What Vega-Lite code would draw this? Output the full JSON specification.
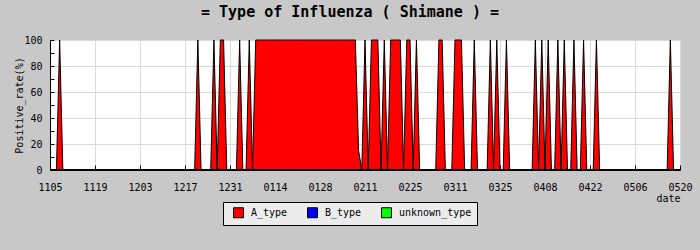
{
  "$schema": "https://vega.github.io/schema/vega-lite/v6.json",
  "autosize": {"type": "none"},
  "width": 630,
  "height": 130,
  "padding": {"left": 50, "top": 40, "right": 20, "bottom": 80},
  "background": "#c8c8c8",
  "title": {
    "text": "= Type of Influenza ( Shimane ) =",
    "font": "DejaVu Sans Mono",
    "fontSize": 15,
    "fontWeight": "bold",
    "color": "black",
    "anchor": "middle",
    "baseline": "alphabetic",
    "offset": 3,
    "dx": -15
  },
  "config": {
    "view": {"fill": "white", "stroke": null},
    "font": "DejaVu Sans Mono",
    "axis": {
      "labelFont": "DejaVu Sans Mono",
      "labelFontSize": 10,
      "labelColor": "black",
      "titleFont": "DejaVu Sans Mono",
      "titleFontSize": 10,
      "titleFontWeight": "normal",
      "titleColor": "black",
      "domainColor": "black",
      "tickColor": "black",
      "gridColor": "#d9d9d9",
      "labelFlush": false
    }
  },
  "data": {
    "values": [
      {"date":"2009-11-05","A_type":0,"B_type":0,"unknown_type":0},
      {"date":"2009-11-06","A_type":0,"B_type":0,"unknown_type":0},
      {"date":"2009-11-07","A_type":0,"B_type":0,"unknown_type":0},
      {"date":"2009-11-08","A_type":100,"B_type":0,"unknown_type":0},
      {"date":"2009-11-09","A_type":0,"B_type":0,"unknown_type":0},
      {"date":"2009-11-10","A_type":0,"B_type":0,"unknown_type":0},
      {"date":"2009-11-11","A_type":0,"B_type":0,"unknown_type":0},
      {"date":"2009-11-12","A_type":0,"B_type":0,"unknown_type":0},
      {"date":"2009-11-13","A_type":0,"B_type":0,"unknown_type":0},
      {"date":"2009-11-14","A_type":0,"B_type":0,"unknown_type":0},
      {"date":"2009-11-15","A_type":0,"B_type":0,"unknown_type":0},
      {"date":"2009-11-16","A_type":0,"B_type":0,"unknown_type":0},
      {"date":"2009-11-17","A_type":0,"B_type":0,"unknown_type":0},
      {"date":"2009-11-18","A_type":0,"B_type":0,"unknown_type":0},
      {"date":"2009-11-19","A_type":0,"B_type":0,"unknown_type":0},
      {"date":"2009-11-20","A_type":0,"B_type":0,"unknown_type":0},
      {"date":"2009-11-21","A_type":0,"B_type":0,"unknown_type":0},
      {"date":"2009-11-22","A_type":0,"B_type":0,"unknown_type":0},
      {"date":"2009-11-23","A_type":0,"B_type":0,"unknown_type":0},
      {"date":"2009-11-24","A_type":0,"B_type":0,"unknown_type":0},
      {"date":"2009-11-25","A_type":0,"B_type":0,"unknown_type":0},
      {"date":"2009-11-26","A_type":0,"B_type":0,"unknown_type":0},
      {"date":"2009-11-27","A_type":0,"B_type":0,"unknown_type":0},
      {"date":"2009-11-28","A_type":0,"B_type":0,"unknown_type":0},
      {"date":"2009-11-29","A_type":0,"B_type":0,"unknown_type":0},
      {"date":"2009-11-30","A_type":0,"B_type":0,"unknown_type":0},
      {"date":"2009-12-01","A_type":0,"B_type":0,"unknown_type":0},
      {"date":"2009-12-02","A_type":0,"B_type":0,"unknown_type":0},
      {"date":"2009-12-03","A_type":0,"B_type":0,"unknown_type":0},
      {"date":"2009-12-04","A_type":0,"B_type":0,"unknown_type":0},
      {"date":"2009-12-05","A_type":0,"B_type":0,"unknown_type":0},
      {"date":"2009-12-06","A_type":0,"B_type":0,"unknown_type":0},
      {"date":"2009-12-07","A_type":0,"B_type":0,"unknown_type":0},
      {"date":"2009-12-08","A_type":0,"B_type":0,"unknown_type":0},
      {"date":"2009-12-09","A_type":0,"B_type":0,"unknown_type":0},
      {"date":"2009-12-10","A_type":0,"B_type":0,"unknown_type":0},
      {"date":"2009-12-11","A_type":0,"B_type":0,"unknown_type":0},
      {"date":"2009-12-12","A_type":0,"B_type":0,"unknown_type":0},
      {"date":"2009-12-13","A_type":0,"B_type":0,"unknown_type":0},
      {"date":"2009-12-14","A_type":0,"B_type":0,"unknown_type":0},
      {"date":"2009-12-15","A_type":0,"B_type":0,"unknown_type":0},
      {"date":"2009-12-16","A_type":0,"B_type":0,"unknown_type":0},
      {"date":"2009-12-17","A_type":0,"B_type":0,"unknown_type":0},
      {"date":"2009-12-18","A_type":0,"B_type":0,"unknown_type":0},
      {"date":"2009-12-19","A_type":0,"B_type":0,"unknown_type":0},
      {"date":"2009-12-20","A_type":0,"B_type":0,"unknown_type":0},
      {"date":"2009-12-21","A_type":100,"B_type":0,"unknown_type":0},
      {"date":"2009-12-22","A_type":0,"B_type":0,"unknown_type":0},
      {"date":"2009-12-23","A_type":0,"B_type":0,"unknown_type":0},
      {"date":"2009-12-24","A_type":0,"B_type":0,"unknown_type":0},
      {"date":"2009-12-25","A_type":0,"B_type":0,"unknown_type":0},
      {"date":"2009-12-26","A_type":100,"B_type":0,"unknown_type":0},
      {"date":"2009-12-27","A_type":0,"B_type":0,"unknown_type":0},
      {"date":"2009-12-28","A_type":100,"B_type":0,"unknown_type":0},
      {"date":"2009-12-29","A_type":100,"B_type":0,"unknown_type":0},
      {"date":"2009-12-30","A_type":0,"B_type":0,"unknown_type":0},
      {"date":"2009-12-31","A_type":0,"B_type":0,"unknown_type":0},
      {"date":"2010-01-01","A_type":0,"B_type":0,"unknown_type":0},
      {"date":"2010-01-02","A_type":0,"B_type":0,"unknown_type":0},
      {"date":"2010-01-03","A_type":100,"B_type":0,"unknown_type":0},
      {"date":"2010-01-04","A_type":0,"B_type":0,"unknown_type":0},
      {"date":"2010-01-05","A_type":0,"B_type":0,"unknown_type":0},
      {"date":"2010-01-06","A_type":100,"B_type":0,"unknown_type":0},
      {"date":"2010-01-07","A_type":0,"B_type":0,"unknown_type":0},
      {"date":"2010-01-08","A_type":100,"B_type":0,"unknown_type":0},
      {"date":"2010-01-09","A_type":100,"B_type":0,"unknown_type":0},
      {"date":"2010-01-10","A_type":100,"B_type":0,"unknown_type":0},
      {"date":"2010-01-11","A_type":100,"B_type":0,"unknown_type":0},
      {"date":"2010-01-12","A_type":100,"B_type":0,"unknown_type":0},
      {"date":"2010-01-13","A_type":100,"B_type":0,"unknown_type":0},
      {"date":"2010-01-14","A_type":100,"B_type":0,"unknown_type":0},
      {"date":"2010-01-15","A_type":100,"B_type":0,"unknown_type":0},
      {"date":"2010-01-16","A_type":100,"B_type":0,"unknown_type":0},
      {"date":"2010-01-17","A_type":100,"B_type":0,"unknown_type":0},
      {"date":"2010-01-18","A_type":100,"B_type":0,"unknown_type":0},
      {"date":"2010-01-19","A_type":100,"B_type":0,"unknown_type":0},
      {"date":"2010-01-20","A_type":100,"B_type":0,"unknown_type":0},
      {"date":"2010-01-21","A_type":100,"B_type":0,"unknown_type":0},
      {"date":"2010-01-22","A_type":100,"B_type":0,"unknown_type":0},
      {"date":"2010-01-23","A_type":100,"B_type":0,"unknown_type":0},
      {"date":"2010-01-24","A_type":100,"B_type":0,"unknown_type":0},
      {"date":"2010-01-25","A_type":100,"B_type":0,"unknown_type":0},
      {"date":"2010-01-26","A_type":100,"B_type":0,"unknown_type":0},
      {"date":"2010-01-27","A_type":100,"B_type":0,"unknown_type":0},
      {"date":"2010-01-28","A_type":100,"B_type":0,"unknown_type":0},
      {"date":"2010-01-29","A_type":100,"B_type":0,"unknown_type":0},
      {"date":"2010-01-30","A_type":100,"B_type":0,"unknown_type":0},
      {"date":"2010-01-31","A_type":100,"B_type":0,"unknown_type":0},
      {"date":"2010-02-01","A_type":100,"B_type":0,"unknown_type":0},
      {"date":"2010-02-02","A_type":100,"B_type":0,"unknown_type":0},
      {"date":"2010-02-03","A_type":100,"B_type":0,"unknown_type":0},
      {"date":"2010-02-04","A_type":100,"B_type":0,"unknown_type":0},
      {"date":"2010-02-05","A_type":100,"B_type":0,"unknown_type":0},
      {"date":"2010-02-06","A_type":100,"B_type":0,"unknown_type":0},
      {"date":"2010-02-07","A_type":100,"B_type":0,"unknown_type":0},
      {"date":"2010-02-08","A_type":100,"B_type":0,"unknown_type":0},
      {"date":"2010-02-09","A_type":15,"B_type":0,"unknown_type":0},
      {"date":"2010-02-10","A_type":0,"B_type":0,"unknown_type":0},
      {"date":"2010-02-11","A_type":100,"B_type":0,"unknown_type":0},
      {"date":"2010-02-12","A_type":0,"B_type":0,"unknown_type":0},
      {"date":"2010-02-13","A_type":100,"B_type":0,"unknown_type":0},
      {"date":"2010-02-14","A_type":100,"B_type":0,"unknown_type":0},
      {"date":"2010-02-15","A_type":100,"B_type":0,"unknown_type":0},
      {"date":"2010-02-16","A_type":0,"B_type":0,"unknown_type":0},
      {"date":"2010-02-17","A_type":100,"B_type":0,"unknown_type":0},
      {"date":"2010-02-18","A_type":0,"B_type":0,"unknown_type":0},
      {"date":"2010-02-19","A_type":100,"B_type":0,"unknown_type":0},
      {"date":"2010-02-20","A_type":100,"B_type":0,"unknown_type":0},
      {"date":"2010-02-21","A_type":100,"B_type":0,"unknown_type":0},
      {"date":"2010-02-22","A_type":100,"B_type":0,"unknown_type":0},
      {"date":"2010-02-23","A_type":0,"B_type":0,"unknown_type":0},
      {"date":"2010-02-24","A_type":100,"B_type":0,"unknown_type":0},
      {"date":"2010-02-25","A_type":100,"B_type":0,"unknown_type":0},
      {"date":"2010-02-26","A_type":0,"B_type":0,"unknown_type":0},
      {"date":"2010-02-27","A_type":100,"B_type":0,"unknown_type":0},
      {"date":"2010-02-28","A_type":0,"B_type":0,"unknown_type":0},
      {"date":"2010-03-01","A_type":0,"B_type":0,"unknown_type":0},
      {"date":"2010-03-02","A_type":0,"B_type":0,"unknown_type":0},
      {"date":"2010-03-03","A_type":0,"B_type":0,"unknown_type":0},
      {"date":"2010-03-04","A_type":0,"B_type":0,"unknown_type":0},
      {"date":"2010-03-05","A_type":0,"B_type":0,"unknown_type":0},
      {"date":"2010-03-06","A_type":100,"B_type":0,"unknown_type":0},
      {"date":"2010-03-07","A_type":100,"B_type":0,"unknown_type":0},
      {"date":"2010-03-08","A_type":0,"B_type":0,"unknown_type":0},
      {"date":"2010-03-09","A_type":0,"B_type":0,"unknown_type":0},
      {"date":"2010-03-10","A_type":0,"B_type":0,"unknown_type":0},
      {"date":"2010-03-11","A_type":100,"B_type":0,"unknown_type":0},
      {"date":"2010-03-12","A_type":100,"B_type":0,"unknown_type":0},
      {"date":"2010-03-13","A_type":100,"B_type":0,"unknown_type":0},
      {"date":"2010-03-14","A_type":0,"B_type":0,"unknown_type":0},
      {"date":"2010-03-15","A_type":0,"B_type":0,"unknown_type":0},
      {"date":"2010-03-16","A_type":0,"B_type":0,"unknown_type":0},
      {"date":"2010-03-17","A_type":100,"B_type":0,"unknown_type":0},
      {"date":"2010-03-18","A_type":0,"B_type":0,"unknown_type":0},
      {"date":"2010-03-19","A_type":0,"B_type":0,"unknown_type":0},
      {"date":"2010-03-20","A_type":0,"B_type":0,"unknown_type":0},
      {"date":"2010-03-21","A_type":0,"B_type":0,"unknown_type":0},
      {"date":"2010-03-22","A_type":100,"B_type":0,"unknown_type":0},
      {"date":"2010-03-23","A_type":0,"B_type":0,"unknown_type":0},
      {"date":"2010-03-24","A_type":100,"B_type":0,"unknown_type":0},
      {"date":"2010-03-25","A_type":0,"B_type":0,"unknown_type":0},
      {"date":"2010-03-26","A_type":0,"B_type":0,"unknown_type":0},
      {"date":"2010-03-27","A_type":100,"B_type":0,"unknown_type":0},
      {"date":"2010-03-28","A_type":0,"B_type":0,"unknown_type":0},
      {"date":"2010-03-29","A_type":0,"B_type":0,"unknown_type":0},
      {"date":"2010-03-30","A_type":0,"B_type":0,"unknown_type":0},
      {"date":"2010-03-31","A_type":0,"B_type":0,"unknown_type":0},
      {"date":"2010-04-01","A_type":0,"B_type":0,"unknown_type":0},
      {"date":"2010-04-02","A_type":0,"B_type":0,"unknown_type":0},
      {"date":"2010-04-03","A_type":0,"B_type":0,"unknown_type":0},
      {"date":"2010-04-04","A_type":0,"B_type":0,"unknown_type":0},
      {"date":"2010-04-05","A_type":100,"B_type":0,"unknown_type":0},
      {"date":"2010-04-06","A_type":0,"B_type":0,"unknown_type":0},
      {"date":"2010-04-07","A_type":100,"B_type":0,"unknown_type":0},
      {"date":"2010-04-08","A_type":0,"B_type":0,"unknown_type":0},
      {"date":"2010-04-09","A_type":100,"B_type":0,"unknown_type":0},
      {"date":"2010-04-10","A_type":0,"B_type":0,"unknown_type":0},
      {"date":"2010-04-11","A_type":0,"B_type":0,"unknown_type":0},
      {"date":"2010-04-12","A_type":100,"B_type":0,"unknown_type":0},
      {"date":"2010-04-13","A_type":0,"B_type":0,"unknown_type":0},
      {"date":"2010-04-14","A_type":100,"B_type":0,"unknown_type":0},
      {"date":"2010-04-15","A_type":0,"B_type":0,"unknown_type":0},
      {"date":"2010-04-16","A_type":0,"B_type":0,"unknown_type":0},
      {"date":"2010-04-17","A_type":100,"B_type":0,"unknown_type":0},
      {"date":"2010-04-18","A_type":0,"B_type":0,"unknown_type":0},
      {"date":"2010-04-19","A_type":0,"B_type":0,"unknown_type":0},
      {"date":"2010-04-20","A_type":100,"B_type":0,"unknown_type":0},
      {"date":"2010-04-21","A_type":0,"B_type":0,"unknown_type":0},
      {"date":"2010-04-22","A_type":0,"B_type":0,"unknown_type":0},
      {"date":"2010-04-23","A_type":0,"B_type":0,"unknown_type":0},
      {"date":"2010-04-24","A_type":100,"B_type":0,"unknown_type":0},
      {"date":"2010-04-25","A_type":0,"B_type":0,"unknown_type":0},
      {"date":"2010-04-26","A_type":0,"B_type":0,"unknown_type":0},
      {"date":"2010-04-27","A_type":0,"B_type":0,"unknown_type":0},
      {"date":"2010-04-28","A_type":0,"B_type":0,"unknown_type":0},
      {"date":"2010-04-29","A_type":0,"B_type":0,"unknown_type":0},
      {"date":"2010-04-30","A_type":0,"B_type":0,"unknown_type":0},
      {"date":"2010-05-01","A_type":0,"B_type":0,"unknown_type":0},
      {"date":"2010-05-02","A_type":0,"B_type":0,"unknown_type":0},
      {"date":"2010-05-03","A_type":0,"B_type":0,"unknown_type":0},
      {"date":"2010-05-04","A_type":0,"B_type":0,"unknown_type":0},
      {"date":"2010-05-05","A_type":0,"B_type":0,"unknown_type":0},
      {"date":"2010-05-06","A_type":0,"B_type":0,"unknown_type":0},
      {"date":"2010-05-07","A_type":0,"B_type":0,"unknown_type":0},
      {"date":"2010-05-08","A_type":0,"B_type":0,"unknown_type":0},
      {"date":"2010-05-09","A_type":0,"B_type":0,"unknown_type":0},
      {"date":"2010-05-10","A_type":0,"B_type":0,"unknown_type":0},
      {"date":"2010-05-11","A_type":0,"B_type":0,"unknown_type":0},
      {"date":"2010-05-12","A_type":0,"B_type":0,"unknown_type":0},
      {"date":"2010-05-13","A_type":0,"B_type":0,"unknown_type":0},
      {"date":"2010-05-14","A_type":0,"B_type":0,"unknown_type":0},
      {"date":"2010-05-15","A_type":0,"B_type":0,"unknown_type":0},
      {"date":"2010-05-16","A_type":0,"B_type":0,"unknown_type":0},
      {"date":"2010-05-17","A_type":100,"B_type":0,"unknown_type":0},
      {"date":"2010-05-18","A_type":0,"B_type":0,"unknown_type":0},
      {"date":"2010-05-19","A_type":0,"B_type":0,"unknown_type":0},
      {"date":"2010-05-20","A_type":0,"B_type":0,"unknown_type":0}
    ]
  },
  "transform": [
    {"fold": ["A_type", "B_type", "unknown_type"], "as": ["type", "rate"]}
  ],
  "mark": {"type": "area", "stroke": "black", "strokeWidth": 1, "interpolate": "linear"},
  "encoding": {
    "x": {
      "field": "date",
      "type": "temporal",
      "title": "date",
      "scale": {
        "type": "utc",
        "domain": [
          {"year": 2009, "month": 11, "date": 5, "utc": true},
          {"year": 2010, "month": 5, "date": 20, "utc": true}
        ]
      },
      "axis": {
        "values": [
          {"year": 2009, "month": 11, "date": 5, "utc": true},
          {"year": 2009, "month": 11, "date": 19, "utc": true},
          {"year": 2009, "month": 12, "date": 3, "utc": true},
          {"year": 2009, "month": 12, "date": 17, "utc": true},
          {"year": 2009, "month": 12, "date": 31, "utc": true},
          {"year": 2010, "month": 1, "date": 14, "utc": true},
          {"year": 2010, "month": 1, "date": 28, "utc": true},
          {"year": 2010, "month": 2, "date": 11, "utc": true},
          {"year": 2010, "month": 2, "date": 25, "utc": true},
          {"year": 2010, "month": 3, "date": 11, "utc": true},
          {"year": 2010, "month": 3, "date": 25, "utc": true},
          {"year": 2010, "month": 4, "date": 8, "utc": true},
          {"year": 2010, "month": 4, "date": 22, "utc": true},
          {"year": 2010, "month": 5, "date": 6, "utc": true},
          {"year": 2010, "month": 5, "date": 20, "utc": true}
        ],
        "labelExpr": "utcFormat(datum.value, '%m%d')",
        "tickSize": -5,
        "labelPadding": 17,
        "labelAngle": 0,
        "titleAnchor": "end",
        "titleAlign": "right",
        "titlePadding": 1,
        "grid": true
      }
    },
    "y": {
      "field": "rate",
      "type": "quantitative",
      "stack": "zero",
      "title": "Positive_rate(%)",
      "scale": {"domain": [0, 100], "nice": false},
      "axis": {
        "values": [0, 10, 20, 30, 40, 50, 60, 70, 80, 90, 100],
        "labelExpr": "datum.value % 20 == 0 ? datum.label : ''",
        "gridOpacity": {"condition": {"test": "datum.value % 20 == 0", "value": 1}, "value": 0},
        "tickSize": -4,
        "labelPadding": 12,
        "titlePadding": -1,
        "grid": true
      }
    },
    "fill": {
      "field": "type",
      "type": "nominal",
      "scale": {"domain": ["A_type", "B_type", "unknown_type"], "range": ["#ff0000", "#0000ff", "#00ff00"]},
      "legend": {
        "title": null,
        "orient": "none",
        "direction": "horizontal",
        "legendX": 173,
        "legendY": 162,
        "fillColor": "#ececec",
        "strokeColor": "black",
        "padding": 5,
        "symbolType": "square",
        "symbolSize": 100,
        "symbolStrokeColor": "black",
        "symbolStrokeWidth": 1,
        "symbolOffset": 5,
        "labelOffset": 7,
        "columnPadding": 14,
        "labelFont": "DejaVu Sans Mono",
        "labelFontSize": 10,
        "labelColor": "black"
      }
    }
  }
}
